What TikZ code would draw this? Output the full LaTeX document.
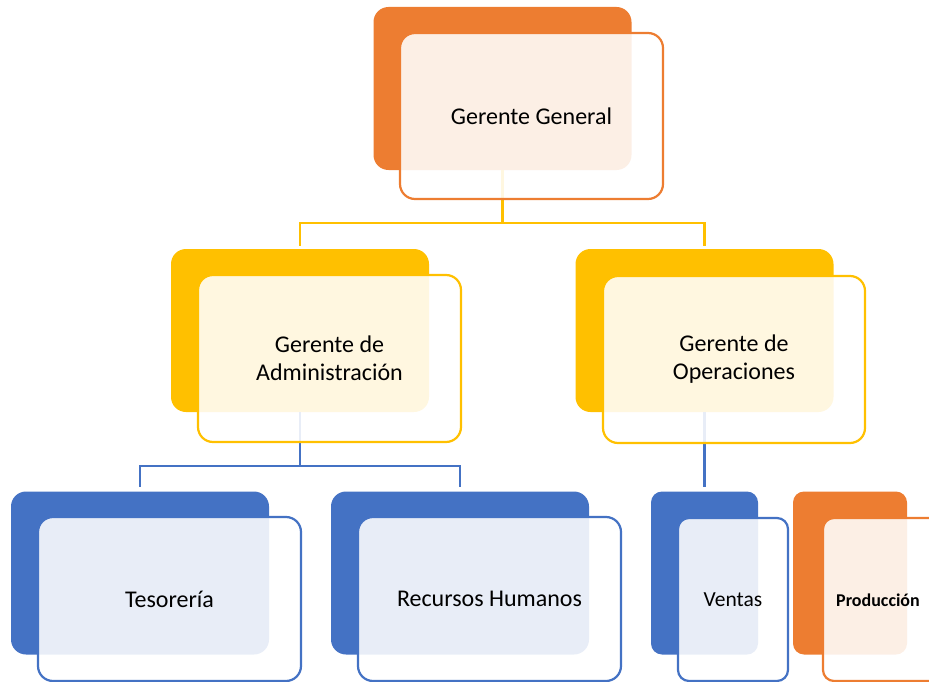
\documentclass[tikz,border=0pt]{standalone}
\usepackage{fontspec}
\setmainfont{Carlito}
\definecolor{orng}{HTML}{ED7D31}
\definecolor{gold}{HTML}{FFC000}
\definecolor{blu}{HTML}{4472C4}
\begin{document}
\begin{tikzpicture}[x=1pt,y=-1pt,
  back/.style={fill=#1, draw=none, rounded corners=15pt, inner sep=0pt,
    minimum width=258pt, minimum height=163pt},
  front/.style={draw=#1, line width=2.2pt, fill=white, fill opacity=0.88,
    text opacity=1, rounded corners=15pt, inner sep=0pt,
    minimum width=263pt, minimum height=166pt, align=center,
    font=\fontsize{24}{28}\selectfont},
  conn/.style={draw=#1, line width=2.2pt}]
\path[use as bounding box] (0,0) rectangle (929,682);
\clip (0,0) rectangle (929,682);
% back rectangles
\node[back=orng] (gb) at (502.5,88.5) {};
\node[back=gold] (ab) at (300,330.5) {};
\node[back=gold] (ob) at (704.5,330.5) {};
\node[back=blu] (tb) at (140,573) {};
\node[back=blu] (rb) at (460,573) {};
\node[back=blu, minimum width=107pt, rounded corners=11pt] (vb) at (704.5,573) {};
\node[back=orng, minimum width=114pt, rounded corners=11pt] (pb) at (850,573) {};
% connectors
\draw[conn=gold] (gb.south) -- ++(0,53) -| ([yshift=3pt]ab.north);
\draw[conn=gold] (gb.south) -- ++(0,53) -| ([yshift=3pt]ob.north);
\draw[conn=blu] (ab.south) -- ++(0,54) -| ([yshift=4pt]tb.north);
\draw[conn=blu] (ab.south) -- ++(0,54) -| ([yshift=4pt]rb.north);
\draw[conn=blu] (ob.south) -- ([yshift=4pt]vb.north);
% front rectangles
\node[front=orng] (gf) at (531.5,116) {Gerente General};
\node[front=gold, minimum height=167pt] (af) at (329.5,358.5) {Gerente de\\Administración};
\node[front=gold, minimum height=167pt, minimum width=262pt] (of) at (734,359.5) {Gerente de\\Operaciones};
\node[front=blu, minimum height=164pt] (tf) at (169.5,599) {Tesorería};
\node[front=blu, minimum height=164pt] (rf) at (489.5,599) {Recursos Humanos};
\node[front=blu, minimum height=163pt, minimum width=110pt, rounded corners=11pt,
  font=\fontsize{21.5}{25}\selectfont] (vf) at (733,599.5) {Ventas};
\node[front=orng, minimum height=163pt, minimum width=130pt, rounded corners=11pt,
  font=\fontsize{18}{22}\selectfont\bfseries] (pf) at (888,599.5) {};
\node[font=\fontsize{18}{22}\selectfont\bfseries, inner sep=0pt] (pt) at (878,600) {Producción};
\end{tikzpicture}
\end{document}
